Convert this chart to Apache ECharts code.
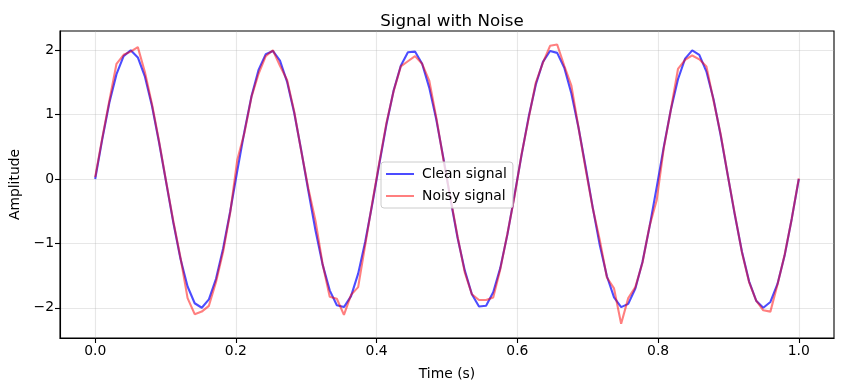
<!DOCTYPE html>
<html><head><meta charset="utf-8">
<script src="https://cdn.jsdelivr.net/npm/echarts@6/dist/echarts.min.js"></script>
<style>html,body{margin:0;padding:0;background:#fff}#c{width:844px;height:391px}</style>
</head><body><div id="c"></div>
<script>
const cleanSignal = [0.00,0.62,1.19,1.63,1.91,2.00,1.89,1.59,1.13,0.56,-0.06,-0.68,-1.24,-1.67,-1.93,-2.00,-1.87,-1.55,-1.08,-0.50,
0.13,0.74,1.29,1.70,1.94,1.99,1.84,1.51,1.03,0.44,-0.19,-0.80,-1.33,-1.73,-1.96,-1.99,-1.82,-1.47,-0.97,-0.38,
0.25,0.86,1.38,1.76,1.97,1.98,1.79,1.42,0.92,0.32,-0.32,-0.92,-1.42,-1.79,-1.98,-1.97,-1.76,-1.38,-0.86,-0.25,
0.38,0.97,1.47,1.82,1.99,1.96,1.73,1.33,0.80,0.19,-0.44,-1.03,-1.51,-1.84,-1.99,-1.94,-1.70,-1.29,-0.74,-0.13,
0.50,1.08,1.55,1.87,2.00,1.93,1.67,1.24,0.68,0.06,-0.56,-1.13,-1.59,-1.89,-2.00,-1.91,-1.63,-1.19,-0.62,0.00];
const noisySignal = [0.03,0.64,1.22,1.79,1.93,1.98,2.05,1.66,1.16,0.58,-0.05,-0.66,-1.22,-1.85,-2.10,-2.06,-1.97,-1.60,-1.13,-0.52,
0.30,0.72,1.28,1.64,1.91,2.00,1.76,1.54,1.05,0.43,-0.15,-0.65,-1.32,-1.83,-1.86,-2.11,-1.80,-1.68,-1.02,-0.36,
0.27,0.88,1.37,1.75,1.83,1.91,1.79,1.53,0.95,0.30,-0.30,-0.90,-1.45,-1.79,-1.88,-1.88,-1.84,-1.40,-0.85,-0.27,
0.39,0.95,1.50,1.81,2.07,2.09,1.76,1.45,0.80,0.16,-0.45,-0.95,-1.53,-1.70,-2.25,-1.85,-1.68,-1.30,-0.73,-0.33,
0.48,1.08,1.71,1.85,1.92,1.86,1.75,1.22,0.70,0.06,-0.55,-1.14,-1.60,-1.89,-2.04,-2.06,-1.64,-1.18,-0.62,0.01];
const time = cleanSignal.map((_, i) => i / (cleanSignal.length - 1));
const xTicks = [0, 0.2, 0.4, 0.6, 0.8, 1.0];
const yTicks = [-2, -1, 0, 1, 2];

const FONT = 'DejaVu Sans';
const chart = echarts.init(document.getElementById('c'), null, {renderer: 'canvas'});
const pairs = arr => arr.map((v, i) => [time[i], v]);
chart.setOption({
  animation: false,
  backgroundColor: '#fff',
  title: {
    text: 'Signal with Noise', left: 447, top: 8, textAlign: 'center',
    textStyle: {fontFamily: FONT, fontSize: 16.7, fontWeight: 'normal', color: '#000'}
  },
  grid: {left: 60, right: 10, top: 31, bottom: 53, show: true, borderColor: '#000', borderWidth: 1.1,
         backgroundColor: 'transparent', containLabel: false, outerBoundsMode: 'none'},
  legend: {
    orient: 'vertical', left: 381, top: 162,
    data: ['Clean signal', 'Noisy signal'],
    icon: 'rect', itemWidth: 28, itemHeight: 2, itemGap: 8,
    padding: [5, 6, 5, 5],
    backgroundColor: 'rgba(255,255,255,0.8)', borderColor: '#cccccc', borderWidth: 1, borderRadius: 3,
    textStyle: {fontFamily: FONT, fontSize: 13.9, color: '#000', padding: [0, 0, 0, 3]}
  },
  xAxis: {
    type: 'value', min: -0.05, max: 1.05,
    name: 'Time (s)', nameLocation: 'middle', nameGap: 29,
    nameTextStyle: {fontFamily: FONT, fontSize: 13.9, color: '#000'},
    axisLine: {show: true, onZero: false, lineStyle: {color: '#000', width: 1.1}},
    axisTick: {show: true, inside: false, length: 5, lineStyle: {color: '#000', width: 1.1}, customValues: xTicks},
    axisLabel: {show: true, margin: 6, fontFamily: FONT, fontSize: 13.9, color: '#000', customValues: xTicks,
                formatter: v => v.toFixed(1)},
    splitLine: {show: true, lineStyle: {color: 'rgba(176,176,176,0.3)', width: 1.1}}
  },
  yAxis: {
    type: 'value', min: -2.47, max: 2.30,
    name: 'Amplitude', nameLocation: 'middle', nameGap: 36, nameRotate: 90,
    nameTextStyle: {fontFamily: FONT, fontSize: 13.9, color: '#000'},
    axisLine: {show: true, onZero: false, lineStyle: {color: '#000', width: 1.1}},
    axisTick: {show: true, inside: false, length: 5, lineStyle: {color: '#000', width: 1.1}, customValues: yTicks},
    axisLabel: {show: true, margin: 6, fontFamily: FONT, fontSize: 13.9, color: '#000', customValues: yTicks,
                formatter: v => String(v).replace('-', '\u2212')},
    splitLine: {show: true, lineStyle: {color: 'rgba(176,176,176,0.3)', width: 1.1}}
  },
  series: [
    {name: 'Clean signal', type: 'line', data: pairs(cleanSignal), showSymbol: false, symbol: 'none',
     lineStyle: {color: 'rgba(0,0,255,0.7)', width: 2.1}, itemStyle: {color: 'rgba(0,0,255,0.7)'}},
    {name: 'Noisy signal', type: 'line', data: pairs(noisySignal), showSymbol: false, symbol: 'none',
     lineStyle: {color: 'rgba(255,0,0,0.5)', width: 2.1}, itemStyle: {color: 'rgba(255,0,0,0.5)'}}
  ]
});
</script></body></html>
